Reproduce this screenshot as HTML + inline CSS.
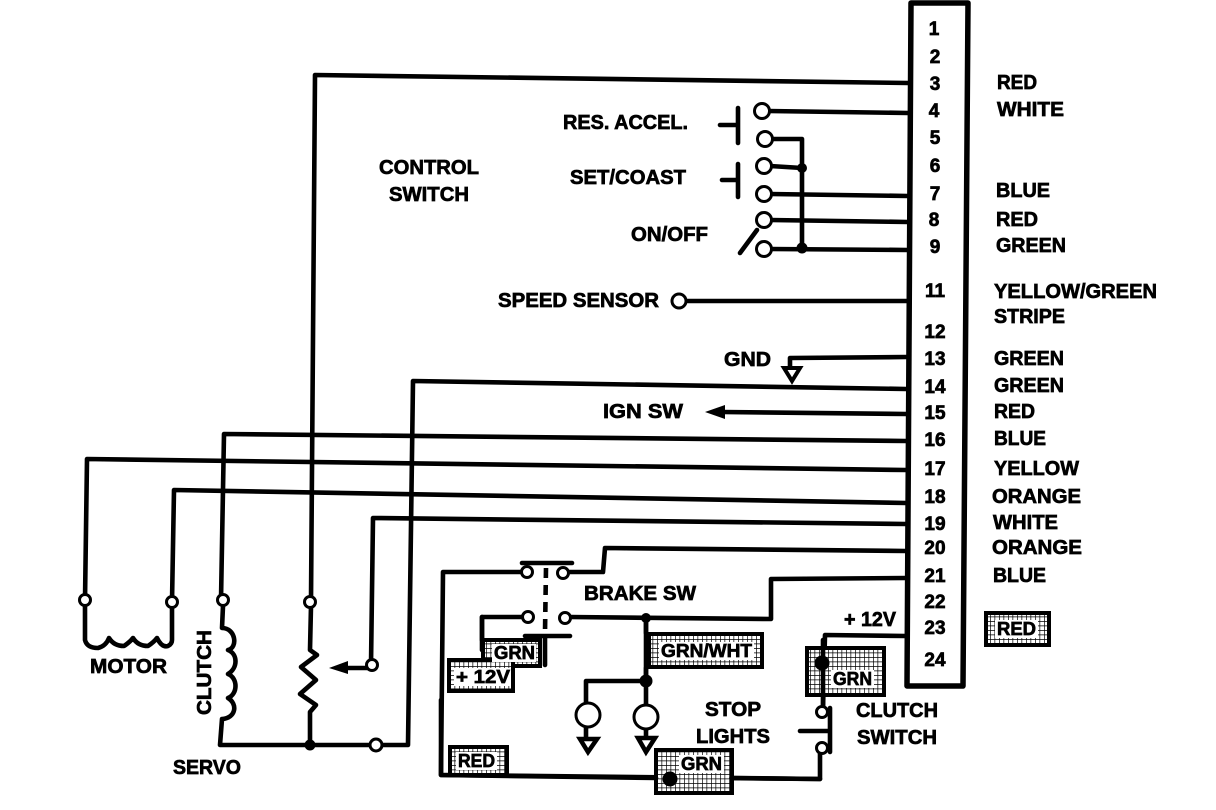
<!DOCTYPE html>
<html><head><meta charset="utf-8"><style>
html,body{margin:0;padding:0;background:#fff}
svg{display:block}
text{font-family:"Liberation Sans",sans-serif;font-weight:bold;font-size:20px;fill:#000;stroke:#000;stroke-width:.7px;transform:translateY(-1px)}
.w{fill:none;stroke:#000;stroke-width:4.6;stroke-linejoin:round;stroke-linecap:round}
.c{fill:#fff;stroke:#000;stroke-width:3}
.n{text-anchor:middle;font-size:19px}
.b{fill:url(#h);stroke:#000;stroke-width:4}
</style></head><body>
<svg width="1216" height="810" viewBox="0 0 1216 810" xmlns="http://www.w3.org/2000/svg">
<defs><pattern id="h" width="4.5" height="4.5" patternUnits="userSpaceOnUse"><rect width="4.5" height="4.5" fill="#fff"/><path d="M0 0H4.5M0 0V4.5" stroke="#000" stroke-width="1.4"/></pattern></defs>
<rect width="1216" height="810" fill="#fff"/>

<!-- connector -->
<path class="w" style="stroke-width:5.5" d="M968 3H911L907 686H963L968 3"/>

<!-- wires -->
<g class="w">
<path d="M311 600L315 75L908 83"/>
<path d="M768 111L908 113"/>
<path d="M771 139H802V248"/>
<path d="M770 166L802 168"/>
<path d="M770 194L908 196"/>
<path d="M770 220L908 222"/>
<path d="M770 249L908 250"/>
<path d="M738 108V143M720 125H738M738 164V197M722 180H738"/>
<path d="M740 253L757 230"/>
<path d="M686 301H908"/>
<path d="M906 357L790 358V368"/>
<path d="M906 389L413 381L408 745H310"/>
<path d="M722 412L906 414"/>
<path d="M221 600L224 434L906 441"/>
<path d="M85 600L87 459L906 470"/>
<path d="M172 602L174 490L906 503"/>
<path d="M371 665L373 518L906 524"/>
<path d="M345 668H371"/>
<path d="M906 551L605 548L603 572H568"/>
<path d="M906 578L771 579V619L570 617"/>
<path d="M521 572H443L441 775L820 779V753"/>
<path d="M522 563H572"/>
<path d="M522 617H482V650"/>
<path d="M646 617V680M646 681H586V705M646 680V705"/>
<path d="M906 636L825 635L823 708"/>
<path d="M800 731H830M830 708V752"/>
<path d="M525 636H570M545 636V665"/>
<path d="M546 568L545 632" stroke-dasharray="10 7" stroke-linecap="butt"/>
<!-- motor coil -->
<path d="M85 606V640Q87 648 98 648Q106 646 109 638Q114 646 124 646Q130 642 133 638Q138 646 148 646Q154 642 157 638Q162 648 168 646Q172 644 172 640V608"/>
<!-- clutch coil -->
<path d="M223 606L222 628C236 628 238 648 228 650C238 654 238 668 228 674C238 678 238 694 228 698C238 704 236 718 222 719L220 745H310"/>
<!-- resistor -->
<path d="M311 606L310 650L317 655L301 667L316 680L300 694L316 705L310 712V745"/>
</g>

<!-- arrowheads / triangles -->
<path d="M705 412L725 405V419Z"/>
<path d="M329 668L348 661V674Z"/>
<path d="M784 368H800L792 381Z" fill="#fff" stroke="#000" stroke-width="4"/>
<path d="M580 739H597L588 752Z" fill="#fff" stroke="#000" stroke-width="4.5"/>
<path d="M638 738H655L646 752Z" fill="#fff" stroke="#000" stroke-width="4.5"/>
<path d="M586 705V739M646 705V739" stroke="#000" stroke-width="4.6" fill="none"/>

<!-- boxes -->
<rect class="b" x="483" y="640" width="57" height="26"/>
<rect class="b" x="449" y="660" width="64" height="31"/>
<rect class="b" x="649" y="634" width="113" height="33"/>
<rect class="b" x="450" y="747" width="57" height="28"/>
<rect class="b" x="656" y="750" width="76" height="43"/>
<rect class="b" x="807" y="648" width="77" height="47"/>
<rect class="b" x="986" y="613" width="63" height="32"/>
<path class="w" d="M482 617V640M441 700V775L656 778M732 778L820 779M823 640V708M646 617V633M646 668V680"/>

<!-- label clear areas -->
<g fill="#fff"><rect x="492" y="644" width="44" height="18"/><rect x="454" y="668" width="57" height="18"/><rect x="659" y="642" width="95" height="18"/><rect x="456" y="752" width="41" height="18"/><rect x="679" y="755" width="45" height="18"/><rect x="831" y="670" width="43" height="18"/><rect x="995" y="620" width="43" height="18"/></g>

<!-- dots -->
<circle cx="802" cy="168" r="5"/><circle cx="802" cy="248" r="5.5"/>
<circle cx="310" cy="745" r="5.5"/><circle cx="646" cy="681" r="6.5"/><circle cx="646" cy="618" r="5"/>
<circle cx="670" cy="779" r="7.5"/><circle cx="822" cy="663" r="7.5"/>

<!-- terminals -->
<g class="c">
<circle cx="762" cy="111" r="7.5"/><circle cx="765" cy="139" r="7.5"/><circle cx="764" cy="166" r="7.5"/><circle cx="764" cy="194" r="7.5"/><circle cx="764" cy="220" r="7.5"/><circle cx="764" cy="249" r="7.5"/>
<circle cx="679" cy="301" r="7"/>
<circle cx="85" cy="600" r="5.5"/><circle cx="172" cy="602" r="5.5"/><circle cx="223" cy="600" r="5.5"/><circle cx="310" cy="602" r="5.5"/><circle cx="372" cy="665" r="5.5"/><circle cx="376" cy="745" r="6"/>
<circle cx="527" cy="572" r="5.5"/><circle cx="563" cy="573" r="5.5"/><circle cx="528" cy="617" r="5.5"/><circle cx="565" cy="618" r="5.5"/>
<circle cx="822" cy="712" r="5.5"/><circle cx="822" cy="748" r="5.5"/>
<circle cx="588" cy="715" r="12"/><circle cx="646" cy="717" r="12"/>
</g>

<!-- pin numbers -->
<g class="n">
<text class="n" x="934" y="36">1</text><text class="n" x="935" y="64">2</text><text class="n" x="935" y="91">3</text><text class="n" x="934" y="118">4</text><text class="n" x="935" y="145">5</text><text class="n" x="935" y="173">6</text><text class="n" x="935" y="201">7</text><text class="n" x="934" y="227">8</text><text class="n" x="935" y="254">9</text>
<text class="n" x="935" y="298">11</text><text class="n" x="935" y="339">12</text><text class="n" x="935" y="366">13</text><text class="n" x="935" y="394">14</text><text class="n" x="935" y="420">15</text><text class="n" x="935" y="447">16</text><text class="n" x="935" y="476">17</text><text class="n" x="935" y="504">18</text><text class="n" x="935" y="531">19</text><text class="n" x="935" y="555">20</text><text class="n" x="935" y="583">21</text><text class="n" x="935" y="609">22</text><text class="n" x="935" y="635">23</text><text class="n" x="935" y="667">24</text>
</g>

<!-- colours -->
<text x="997" y="90" textLength="40" lengthAdjust="spacingAndGlyphs">RED</text>
<text x="997" y="117" textLength="67" lengthAdjust="spacingAndGlyphs">WHITE</text>
<text x="996" y="198" textLength="54" lengthAdjust="spacingAndGlyphs">BLUE</text>
<text x="996" y="227" textLength="42" lengthAdjust="spacingAndGlyphs">RED</text>
<text x="996" y="253" textLength="70" lengthAdjust="spacingAndGlyphs">GREEN</text>
<text x="994" y="299" textLength="163" lengthAdjust="spacingAndGlyphs">YELLOW/GREEN</text>
<text x="994" y="324" textLength="71" lengthAdjust="spacingAndGlyphs">STRIPE</text>
<text x="994" y="366" textLength="70" lengthAdjust="spacingAndGlyphs">GREEN</text>
<text x="994" y="393" textLength="70" lengthAdjust="spacingAndGlyphs">GREEN</text>
<text x="994" y="419" textLength="41" lengthAdjust="spacingAndGlyphs">RED</text>
<text x="994" y="446" textLength="52" lengthAdjust="spacingAndGlyphs">BLUE</text>
<text x="994" y="476" textLength="85" lengthAdjust="spacingAndGlyphs">YELLOW</text>
<text x="992" y="504" textLength="89" lengthAdjust="spacingAndGlyphs">ORANGE</text>
<text x="993" y="530" textLength="65" lengthAdjust="spacingAndGlyphs">WHITE</text>
<text x="992" y="555" textLength="90" lengthAdjust="spacingAndGlyphs">ORANGE</text>
<text x="993" y="583" textLength="53" lengthAdjust="spacingAndGlyphs">BLUE</text>

<!-- labels -->
<text x="563" y="130" textLength="125" lengthAdjust="spacingAndGlyphs">RES. ACCEL.</text>
<text x="379" y="175" textLength="100" lengthAdjust="spacingAndGlyphs">CONTROL</text>
<text x="389" y="202" textLength="80" lengthAdjust="spacingAndGlyphs">SWITCH</text>
<text x="570" y="185" textLength="116" lengthAdjust="spacingAndGlyphs">SET/COAST</text>
<text x="631" y="242" textLength="77" lengthAdjust="spacingAndGlyphs">ON/OFF</text>
<text x="498" y="308" textLength="161" lengthAdjust="spacingAndGlyphs">SPEED SENSOR</text>
<text x="724" y="367" textLength="47" lengthAdjust="spacingAndGlyphs">GND</text>
<text x="603" y="419" textLength="80" lengthAdjust="spacingAndGlyphs">IGN SW</text>
<text x="584" y="601" textLength="112" lengthAdjust="spacingAndGlyphs">BRAKE SW</text>
<text x="844" y="627" textLength="52" lengthAdjust="spacingAndGlyphs">+ 12V</text>
<text x="90" y="674" textLength="77" lengthAdjust="spacingAndGlyphs">MOTOR</text>
<g transform="translate(211 715) rotate(-90)"><text x="0" y="0" textLength="85" lengthAdjust="spacingAndGlyphs" style="transform:none">CLUTCH</text></g>
<text x="173" y="775" textLength="68" lengthAdjust="spacingAndGlyphs">SERVO</text>
<text x="705" y="717" textLength="56" lengthAdjust="spacingAndGlyphs">STOP</text>
<text x="696" y="744" textLength="74" lengthAdjust="spacingAndGlyphs">LIGHTS</text>
<text x="856" y="718" textLength="82" lengthAdjust="spacingAndGlyphs">CLUTCH</text>
<text x="857" y="745" textLength="80" lengthAdjust="spacingAndGlyphs">SWITCH</text>
<text x="494" y="660" textLength="41" lengthAdjust="spacingAndGlyphs" style="font-size:18px">GRN</text>
<text x="456" y="684" textLength="54" lengthAdjust="spacingAndGlyphs" style="font-size:18px">+ 12V</text>
<text x="661" y="658" textLength="91" lengthAdjust="spacingAndGlyphs" style="font-size:18px">GRN/WHT</text>
<text x="458" y="768" textLength="37" lengthAdjust="spacingAndGlyphs" style="font-size:18px">RED</text>
<text x="681" y="771" textLength="41" lengthAdjust="spacingAndGlyphs" style="font-size:18px">GRN</text>
<text x="833" y="686" textLength="39" lengthAdjust="spacingAndGlyphs" style="font-size:18px">GRN</text>
<text x="997" y="636" textLength="39" lengthAdjust="spacingAndGlyphs" style="font-size:18px">RED</text>
</svg>
</body></html>
